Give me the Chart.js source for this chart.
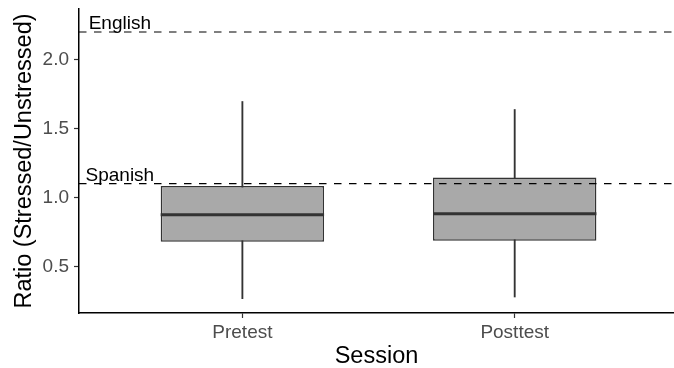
<!DOCTYPE html>
<html>
<head>
<meta charset="utf-8">
<script src="https://cdn.jsdelivr.net/npm/chart.js@4.4.0/dist/chart.umd.min.js"></script>
<style>
  body { margin: 0; background: #fff; }
  #wrap { width: 674px; height: 368px; }
</style>
</head>
<body>
<div id="wrap"><canvas id="myChart"></canvas></div>
<script>
// sessions and box statistics
const sessions = ['Pretest', 'Posttest'];
const whiskerLow = [0.266, 0.278];
const q1 = [0.679, 0.686];
const median = [0.875, 0.882];
const q3 = [1.083, 1.145];
const whiskerHigh = [1.696, 1.638];

// reference lines for the two languages
const refNames = ['English', 'Spanish'];
const refValues = [2.2, 1.1];

const yTicks = [0.5, 1.0, 1.5, 2.0];
const sessionPos = [1, 2];

const font = "'Liberation Sans', Arial, sans-serif";
let ctx = document.getElementById('myChart').getContext('2d');

// median bar and dashed reference lines drawn with the chart scales
const extras = {
    id: 'extras',
    afterDatasetsDraw(chart) {
        const c = chart.ctx;
        const y = chart.scales.y;
        const x = chart.scales.x;
        const area = chart.chartArea;
        const boxes = chart.getDatasetMeta(1).data;
        c.save();
        c.strokeStyle = '#333333';
        c.lineWidth = 3;
        boxes.forEach((bar, i) => {
            const py = y.getPixelForValue(median[i]);
            c.beginPath();
            c.moveTo(bar.x - bar.width / 2, py);
            c.lineTo(bar.x + bar.width / 2, py);
            c.stroke();
        });
        c.strokeStyle = '#000';
        c.lineWidth = 1.2;
        c.setLineDash([7.5, 7.5]);
        c.fillStyle = '#000';
        c.font = '19px ' + font;
        c.textAlign = 'center';
        c.textBaseline = 'alphabetic';
        refValues.forEach((v, i) => {
            const py = y.getPixelForValue(v);
            c.beginPath();
            c.moveTo(area.left, py);
            c.lineTo(area.right, py);
            c.stroke();
            c.fillText(refNames[i], x.getPixelForValue(0.55), py - 3);
        });
        c.restore();
    }
};

new Chart(ctx, {
    type: 'bar',
    data: {
        datasets: [{
            // whiskers
            data: sessionPos.map((p, i) => ({x: p, y: [whiskerLow[i], whiskerHigh[i]]})),
            backgroundColor: '#333333',
            barThickness: 1.2,
            grouped: false,
            order: 2
        }, {
            // boxes
            data: sessionPos.map((p, i) => ({x: p, y: [q1[i], q3[i]]})),
            backgroundColor: '#a9a9a9',
            borderColor: '#333333',
            borderWidth: 1.5,
            borderSkipped: false,
            categoryPercentage: 1,
            barPercentage: 0.6,
            grouped: false,
            order: 1
        }]
    },
    options: {
        responsive: true,
        maintainAspectRatio: false,
        animation: false,
        events: [],
        layout: { padding: { top: 9, right: 0, left: 0, bottom: 0 } },
        plugins: { legend: { display: false }, tooltip: { enabled: false } },
        scales: {
            x: {
                type: 'linear',
                min: 0.4,
                max: 2.585,
                offset: false,
                afterBuildTicks: s => { s.ticks = sessionPos.map(v => ({value: v})); },
                afterFit: s => { s.height = 55; s.paddingLeft = 0; s.paddingRight = 0; },
                ticks: {
                    callback: v => sessions[v - 1],
                    color: '#4d4d4d',
                    font: { family: font, size: 19 },
                    padding: 3
                },
                grid: { offset: false, drawOnChartArea: false, drawTicks: true, tickLength: 5, color: '#333333', tickWidth: 1.2 },
                border: { display: true, color: '#000', width: 1.5 },
                title: {
                    display: true,
                    text: 'Session',
                    color: '#000',
                    font: { family: font, size: 23.5 },
                    padding: { top: 0, bottom: -3 }
                }
            },
            y: {
                min: 0.162,
                max: 2.367,
                afterBuildTicks: s => { s.ticks = yTicks.map(v => ({value: v})); },
                afterFit: s => { s.width = 79; s.paddingTop = 0; s.paddingBottom = 0; },
                ticks: {
                    callback: v => v.toFixed(1),
                    color: '#4d4d4d',
                    font: { family: font, size: 19 },
                    padding: 5
                },
                grid: { drawOnChartArea: false, drawTicks: true, tickLength: 5, color: '#333333', tickWidth: 1.2 },
                border: { display: true, color: '#000', width: 1.5 },
                title: {
                    display: true,
                    text: 'Ratio (Stressed/Unstressed)',
                    color: '#000',
                    font: { family: font, size: 23.5 },
                    padding: { top: 10, bottom: 0 }
                }
            }
        }
    },
    plugins: [extras]
});
</script>
</body>
</html>
